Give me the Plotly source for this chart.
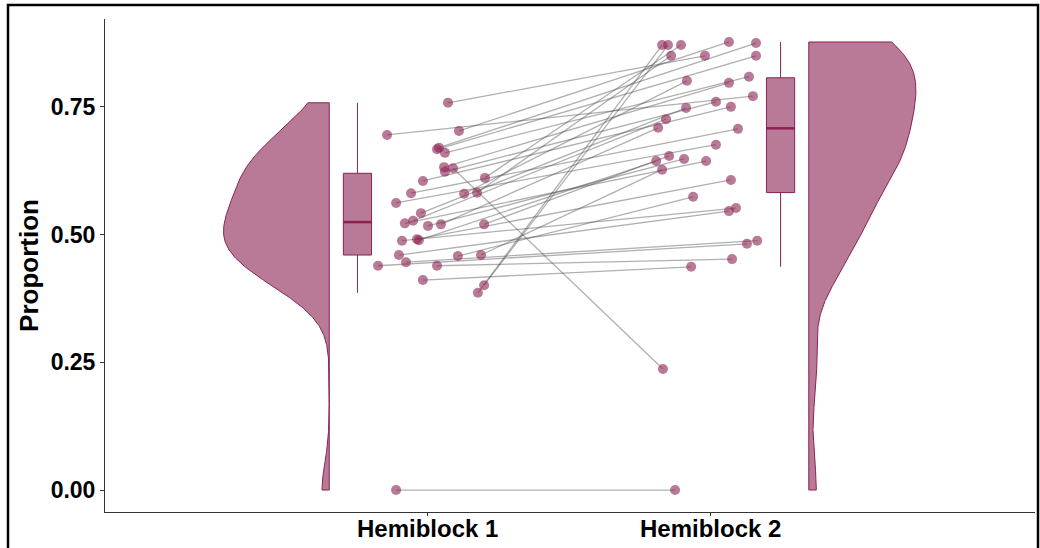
import numpy as np
import plotly.graph_objects as go

# Paired proportions per participant (Hemiblock 1 -> Hemiblock 2)
hemi1 = [0.758, 0.703, 0.695, 0.670, 0.667, 0.660, 0.632, 0.630, 0.623, 0.611,
         0.605, 0.582, 0.581, 0.580, 0.562, 0.542, 0.527, 0.522, 0.520, 0.520,
         0.517, 0.491, 0.489, 0.488, 0.460, 0.460, 0.458, 0.446, 0.439, 0.439,
         0.411, 0.401, 0.386, 0.000]
hemi2 = [0.850, 0.877, 0.771, 0.875, 0.850, 0.809, 0.797, 0.237, 0.760, 0.871,
         0.750, 0.850, 0.707, 0.801, 0.676, 0.748, 0.726, 0.644, 0.709, 0.654,
         0.648, 0.607, 0.644, 0.552, 0.627, 0.546, 0.574, 0.488, 0.482, 0.452,
         0.437, 0.871, 0.871, 0.000]

# Horizontal jitter applied to each point (in category units)
jitter1 = [0.071, 0.110, -0.145, 0.039, 0.032, 0.060, 0.057, 0.089, 0.060, 0.202,
           -0.018, 0.174, -0.060, 0.128, -0.113, -0.025, -0.053, -0.082, 0.046, 0.199,
           0.000, -0.039, -0.032, -0.092, 0.188, -0.103, 0.106, -0.078, -0.177, 0.032,
           -0.018, 0.199, 0.177, -0.113]
jitter2 = [-0.018, 0.067, 0.152, 0.163, 0.163, 0.138, 0.067, -0.167, 0.021, -0.103,
           0.074, -0.138, 0.099, -0.082, 0.021, -0.085, -0.156, -0.014, -0.184, -0.145,
           -0.092, 0.074, -0.191, 0.092, -0.170, 0.067, -0.060, 0.167, 0.131, 0.078,
           -0.067, -0.149, -0.170, -0.124]

categories = ["Hemiblock 1", "Hemiblock 2"]
category_pos = [1, 2]
y_ticks = [0.0, 0.25, 0.50, 0.75]

DARK = "rgb(139,34,82)"
FILL = "rgba(139,34,82,0.6)"
POINT = "rgba(139,34,82,0.6)"
LINE = "rgba(80,80,80,0.45)"
FONT = "Liberation Sans, Arial, sans-serif"


def kde_trimmed(vals, n=512):
    v = np.asarray(vals, dtype=float)
    q75, q25 = np.percentile(v, [75, 25])
    bw = 0.9 * min(v.std(ddof=1), (q75 - q25) / 1.34) * len(v) ** (-0.2)
    grid = np.linspace(v.min(), v.max(), n)
    dens = np.exp(-0.5 * ((grid[:, None] - v[None, :]) / bw) ** 2).sum(axis=1)
    dens /= len(v) * bw * np.sqrt(2 * np.pi)
    return grid, dens


def half_violin(vals, base, side, half_width):
    grid, dens = kde_trimmed(vals)
    w = dens / dens.max() * half_width
    xs = np.concatenate([[base], base + side * w, [base, base]])
    ys = np.concatenate([[grid[0]], grid, [grid[-1], grid[0]]])
    return go.Scatter(x=xs, y=ys, mode="lines", fill="toself", fillcolor=FILL,
                      line=dict(color=DARK, width=1), hoverinfo="skip",
                      showlegend=False)


def box_stats(vals):
    v = np.sort(np.asarray(vals, dtype=float))
    q1, med, q3 = np.percentile(v, [25, 50, 75])
    iqr = q3 - q1
    lo = v[v >= q1 - 1.5 * iqr].min()
    hi = v[v <= q3 + 1.5 * iqr].max()
    return q1, med, q3, lo, hi


fig = go.Figure()

# Half violins (cloud)
fig.add_trace(half_violin(hemi1, 1 - 0.35, -1, 0.375))
fig.add_trace(half_violin(hemi2, 2 + 0.35, 1, 0.38))

# Boxplots
box_w = 0.1
for pos, vals in [(1 - 0.25, hemi1), (2 + 0.25, hemi2)]:
    q1, med, q3, lo, hi = box_stats(vals)
    fig.add_trace(go.Box(x=[pos], q1=[q1], median=[med], q3=[q3],
                         lowerfence=[lo], upperfence=[hi], width=box_w,
                         whiskerwidth=0, fillcolor=FILL,
                         line=dict(color=DARK, width=1), boxpoints=False,
                         hoverinfo="skip", showlegend=False))
    fig.add_trace(go.Scatter(x=[pos - box_w / 2, pos + box_w / 2], y=[med, med],
                             mode="lines", line=dict(color=DARK, width=2.5),
                             hoverinfo="skip", showlegend=False))

# Paired connecting lines
x1 = [1 + j for j in jitter1]
x2 = [2 + j for j in jitter2]
lx, ly = [], []
for a, b, ya, yb in zip(x1, x2, hemi1, hemi2):
    lx += [a, b, None]
    ly += [ya, yb, None]
fig.add_trace(go.Scatter(x=lx, y=ly, mode="lines", line=dict(color=LINE, width=1.3),
                         hoverinfo="skip", showlegend=False))

# Rain (points)
fig.add_trace(go.Scatter(x=x1 + x2, y=hemi1 + hemi2, mode="markers",
                         marker=dict(size=10, color=POINT, line=dict(width=0)),
                         showlegend=False))

W, H = 1040, 548
ml, mr, mt, mb = 105, 5, 19, 36
pw, ph = W - ml - mr, H - mt - mb

# Category labels under the x axis, set tight to the axis line
cat_labels = [dict(x=p, xref="x", y=-2 / ph, yref="paper", yanchor="top",
                   xanchor="center", text=t, showarrow=False, borderpad=0,
                   font=dict(size=24, family=FONT, color="black", weight="bold"))
              for p, t in zip(category_pos, categories)]

fig.update_layout(
    width=W, height=H,
    margin=dict(l=ml, r=mr, t=mt, b=mb, autoexpand=False),
    paper_bgcolor="white", plot_bgcolor="white",
    font=dict(family=FONT, color="black"),
    xaxis=dict(range=[-0.145, 3.152], tickvals=category_pos, showticklabels=False,
               automargin=False,
               showgrid=False, zeroline=False, showline=True, linecolor="#333",
               linewidth=1, ticks="outside", ticklen=3, tickcolor="#333"),
    yaxis=dict(range=[-0.043, 0.922], tickvals=y_ticks,
               ticktext=[f"{t:.2f}" for t in y_ticks], automargin=False,
               showgrid=False, zeroline=False, showline=True, linecolor="#333",
               linewidth=1, ticks="outside", ticklen=4, tickcolor="#333",
               tickfont=dict(size=23, family=FONT, color="black", weight="bold"),
               title=dict(text="Proportion", standoff=4,
                          font=dict(size=26, family=FONT, color="black", weight="bold"))),
    annotations=cat_labels,
    shapes=[dict(type="rect", xref="paper", yref="paper",
                 x0=(8 - ml) / pw, x1=(1038 - ml) / pw,
                 y0=(H - mb - 552) / ph, y1=(H - mb - 5) / ph,
                 line=dict(color="black", width=2.5), fillcolor="rgba(0,0,0,0)")],
)

fig.write_html("out.html")
